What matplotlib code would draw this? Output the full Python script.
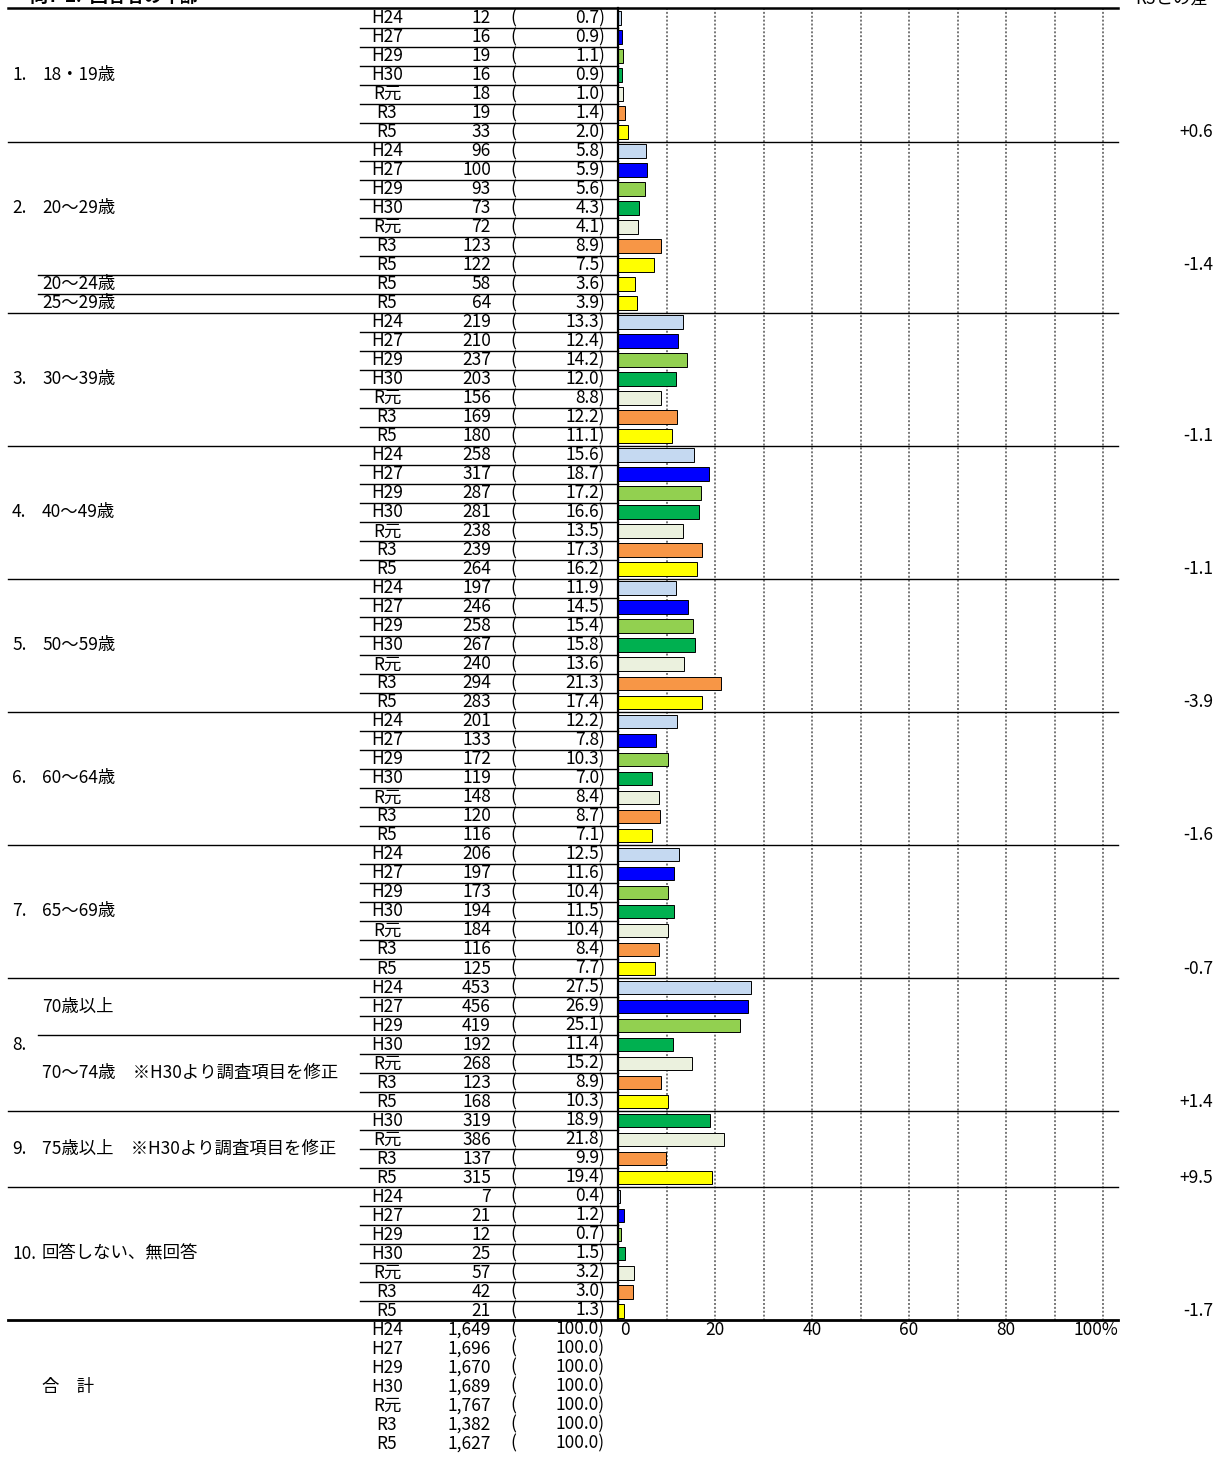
import numpy as np
import matplotlib.pyplot as plt

plt.rcParams['font.family'] = ['Noto Sans CJK JP', 'DejaVu Sans']

# survey years and bar colours
years = ['H24', 'H27', 'H29', 'H30', 'R元', 'R3', 'R5']
year_colors = ['#C5D9F1', '#0000FF', '#92D050', '#00B050', '#EBF1DE', '#F79646', '#FFFF00']

# counts / percents per age group
g1_n = [12, 16, 19, 16, 18, 19, 33]
g1_p = [0.7, 0.9, 1.1, 0.9, 1.0, 1.4, 2.0]
g2_n = [96, 100, 93, 73, 72, 123, 122]
g2_p = [5.8, 5.9, 5.6, 4.3, 4.1, 8.9, 7.5]
g2_sub_labels = ['20～24歳', '25～29歳']
g2_sub_n = [58, 64]
g2_sub_p = [3.6, 3.9]
g3_n = [219, 210, 237, 203, 156, 169, 180]
g3_p = [13.3, 12.4, 14.2, 12.0, 8.8, 12.2, 11.1]
g4_n = [258, 317, 287, 281, 238, 239, 264]
g4_p = [15.6, 18.7, 17.2, 16.6, 13.5, 17.3, 16.2]
g5_n = [197, 246, 258, 267, 240, 294, 283]
g5_p = [11.9, 14.5, 15.4, 15.8, 13.6, 21.3, 17.4]
g6_n = [201, 133, 172, 119, 148, 120, 116]
g6_p = [12.2, 7.8, 10.3, 7.0, 8.4, 8.7, 7.1]
g7_n = [206, 197, 173, 194, 184, 116, 125]
g7_p = [12.5, 11.6, 10.4, 11.5, 10.4, 8.4, 7.7]
g8_n = [453, 456, 419, 192, 268, 123, 168]
g8_p = [27.5, 26.9, 25.1, 11.4, 15.2, 8.9, 10.3]
g9_years = ['H30', 'R元', 'R3', 'R5']
g9_n = [319, 386, 137, 315]
g9_p = [18.9, 21.8, 9.9, 19.4]
g10_n = [7, 21, 12, 25, 57, 42, 21]
g10_p = [0.4, 1.2, 0.7, 1.5, 3.2, 3.0, 1.3]
total_n = [1649, 1696, 1670, 1689, 1767, 1382, 1627]
total_p = [100.0] * 7

group_nums = ['1.', '2.', '3.', '4.', '5.', '6.', '7.', '8.', '9.', '10.']
group_names = ['18・19歳', '20～29歳', '30～39歳', '40～49歳', '50～59歳',
               '60～64歳', '65～69歳', '', '75歳以上　※H30より調査項目を修正',
               '回答しない、無回答']
diff_r3 = ['+0.6', '-1.4', '-1.1', '-1.1', '-3.9', '-1.6', '-0.7', '+1.4', '+9.5', '-1.7']
xticks = [0, 20, 40, 60, 80, 100]

# build the row list
rows = []   # (year, n, p, group index)
def add(ylist, ns, ps, g):
    for y, n, p in zip(ylist, ns, ps):
        rows.append((y, n, p, g))

add(years, g1_n, g1_p, 0)
add(years, g2_n, g2_p, 1)
add(['R5', 'R5'], g2_sub_n, g2_sub_p, 1)
add(years, g3_n, g3_p, 2)
add(years, g4_n, g4_p, 3)
add(years, g5_n, g5_p, 4)
add(years, g6_n, g6_p, 5)
add(years, g7_n, g7_p, 6)
add(years, g8_n, g8_p, 7)
add(g9_years, g9_n, g9_p, 8)
add(years, g10_n, g10_p, 9)
n_bar_rows = len(rows)
add(years, total_n, total_p, 10)

# pixel layout
W, H = 1226, 1457
X0, S = 618, 4.85       # zero position and px per percent
Y0, P = 18, 19.01       # first row centre and row pitch
def px(x):
    return (x - X0) / S

fig = plt.figure(figsize=(W / 100, H / 100), dpi=100)
ax = fig.add_axes([0, 0, 1, 1])
ax.set_xlim(px(0), px(W))
ax.set_ylim((H - Y0) / P, -Y0 / P)
ax.axis('off')

fs = 12.5

# bars
bar_y, bar_w, bar_c = [], [], []
for i, (yr, n, p, g) in enumerate(rows[:n_bar_rows]):
    bar_y.append(i)
    bar_w.append(p)
    bar_c.append(year_colors[years.index(yr)])
ax.barh(bar_y, bar_w, height=0.72, color=bar_c, edgecolor='black', linewidth=0.7, zorder=3)

# grid
for v in range(10, 101, 10):
    ax.plot([v, v], [-0.5, n_bar_rows - 0.5], color='#777777', lw=1.4,
            ls=(0, (1, 1)), zorder=1)
ax.plot([0, 0], [-0.5, n_bar_rows - 0.5], color='black', lw=1.6, zorder=4)

# table texts
for i, (yr, n, p, g) in enumerate(rows):
    ax.text(px(387), i, yr, ha='center', va='center', fontsize=fs)
    ax.text(px(491), i, f'{n:,}', ha='right', va='center', fontsize=fs)
    ax.text(px(513), i, '(', ha='center', va='center', fontsize=fs)
    ax.text(px(605), i, f'{p:.1f})', ha='right', va='center', fontsize=fs)

# row separator lines
group_of = [r[3] for r in rows[:n_bar_rows]]
ax.plot([px(8), px(1118)], [-0.5, -0.5], color='black', lw=1.8)
for i in range(n_bar_rows):
    b = i + 0.5
    if i == n_bar_rows - 1:
        ax.plot([px(8), px(1118)], [b, b], color='black', lw=2.0, zorder=5)
    elif group_of[i + 1] != group_of[i]:
        ax.plot([px(8), px(1118)], [b, b], color='black', lw=1.0)
    elif i in (13, 14, 53):
        ax.plot([px(38), 0], [b, b], color='black', lw=1.0)
    else:
        ax.plot([px(360), 0], [b, b], color='black', lw=1.0)

# group labels and R3 differences
starts = [group_of.index(g) for g in range(10)]
ends = [len(group_of) - 1 - group_of[::-1].index(g) for g in range(10)]
for g in range(10):
    if g == 1:
        mid = (starts[g] + starts[g] + 6) / 2
    else:
        mid = (starts[g] + ends[g]) / 2
    ax.text(px(12), mid, group_nums[g], ha='left', va='center', fontsize=fs)
    if group_names[g]:
        ax.text(px(42), mid, group_names[g], ha='left', va='center', fontsize=fs)
    r5_row = starts[g] + 6 if g == 1 else ends[g]
    ax.text(px(1213), r5_row, diff_r3[g], ha='right', va='center', fontsize=fs)

ax.text(px(42), starts[1] + 7, g2_sub_labels[0], ha='left', va='center', fontsize=fs)
ax.text(px(42), starts[1] + 8, g2_sub_labels[1], ha='left', va='center', fontsize=fs)
ax.text(px(42), starts[7] + 1, '70歳以上', ha='left', va='center', fontsize=fs)
ax.text(px(42), starts[7] + 4.5, '70～74歳　※H30より調査項目を修正', ha='left', va='center', fontsize=fs)
ax.text(px(42), n_bar_rows + 3, '合　計', ha='left', va='center', fontsize=fs)

# x tick labels
for v in xticks:
    if v == 100:
        ax.text(v - 1.5, n_bar_rows, f'{v}%', ha='center', va='center', fontsize=fs)
    elif v == 0:
        ax.text(v + 1.4, n_bar_rows, str(v), ha='center', va='center', fontsize=fs)
    else:
        ax.text(v, n_bar_rows, str(v), ha='center', va='center', fontsize=fs)

# header texts, partly cut at the top edge as in the source
fig.text(30 / W, 1 - 6 / H, '問7-2.  回答者の年齢', ha='left', va='bottom',
         fontsize=13, fontweight='bold')
fig.text(1135 / W, 1 - 8 / H, 'R3との差', ha='left', va='bottom', fontsize=fs)

fig.savefig('out.png', dpi=100)
